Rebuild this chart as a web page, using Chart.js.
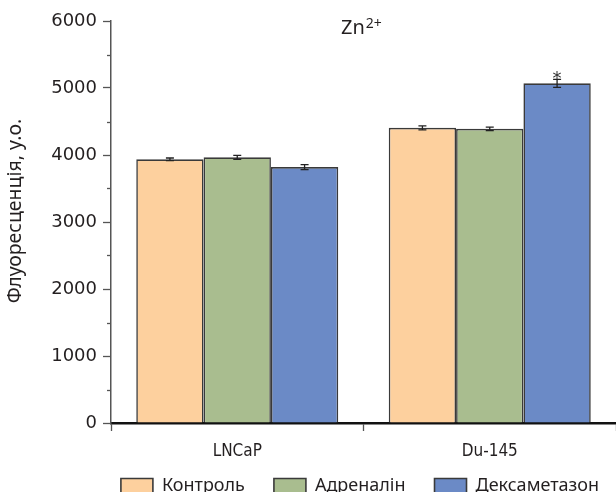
<!DOCTYPE html>
<html>
<head>
<meta charset="utf-8">
<script src="https://cdn.jsdelivr.net/npm/chart.js@4.4.1/dist/chart.umd.min.js"></script>
<style>
  html, body { margin: 0; padding: 0; background: #fff; }
  #wrap { width: 616px; height: 492px; }
</style>
</head>
<body>
<div id="wrap"><canvas id="chart" width="616" height="492"></canvas></div>
<script>
// values
const categories = ["LNCaP", "Du-145"];
const seriesNames = ["Контроль", "Адреналін", "Дексаметазон"];
const controlValues = [3935, 4405];
const adrenalineValues = [3965, 4390];
const dexaValues = [3820, 5070];
const controlErrors = [20, 30];
const adrenalineErrors = [30, 25];
const dexaErrors = [37, 60];
const dexaMarks = ["", "*"];
const yTicks = [0, 1000, 2000, 3000, 4000, 5000, 6000];
const yTitle = "Флуоресценція, у.о.";

const TEXT = "#231f20";
const colors = ["#fdd09e", "#a9bd8f", "#6b8ac6"];

// error bars + significance mark drawn on top of the bars
const errorBars = {
    id: "errorBars",
    afterDatasetsDraw(chart) {
        const { ctx } = chart;
        const y = chart.scales.y;
        chart.data.datasets.forEach((ds, i) => {
            const meta = chart.getDatasetMeta(i);
            meta.data.forEach((bar, j) => {
                const v = ds.data[j], e = ds.errors[j];
                const top = y.getPixelForValue(v + e);
                const bot = y.getPixelForValue(v - e);
                ctx.save();
                ctx.strokeStyle = "#222";
                ctx.lineWidth = 1.3;
                ctx.beginPath();
                ctx.moveTo(bar.x, top); ctx.lineTo(bar.x, bot);
                ctx.moveTo(bar.x - 4, top); ctx.lineTo(bar.x + 4, top);
                ctx.moveTo(bar.x - 4, bot); ctx.lineTo(bar.x + 4, bot);
                ctx.stroke();
                const mark = ds.marks && ds.marks[j];
                if (mark) {
                    ctx.fillStyle = "#333";
                    ctx.font = "18px 'DejaVu Sans'";
                    ctx.textAlign = "center";
                    ctx.textBaseline = "middle";
                    ctx.fillText(mark, bar.x, top);
                }
                ctx.restore();
            });
        });
    },
};

// legend sits lower than chart.js would put it, so move its box after layout
const legendPlacement = {
    id: "legendPlacement",
    afterLayout(chart) {
        const lg = chart.legend;
        if (!lg) return;
        const pad = lg.options.labels.padding;
        lg.top = 477 - pad;
        lg.bottom = 492;
        lg.height = lg.bottom - lg.top;
        lg.left = 52;
        lg.right = 668;
        lg.width = lg.right - lg.left;
    },
};

// minor ticks every 500, y title and the "Zn2+" heading
const extras = {
    id: "extras",
    afterDraw(chart) {
        const { ctx } = chart;
        const y = chart.scales.y;
        ctx.save();
        ctx.strokeStyle = "#555";
        ctx.lineWidth = 1.3;
        y.ticks.forEach((t) => {
            if (t.value % 1000 === 0) return;
            const py = Math.round(y.getPixelForValue(t.value)) + 0.5;
            ctx.beginPath();
            ctx.moveTo(y.right - 4, py); ctx.lineTo(y.right, py);
            ctx.stroke();
        });
        ctx.fillStyle = TEXT;
        ctx.textBaseline = "alphabetic";
        ctx.textAlign = "left";
        ctx.font = "20px 'Noto Sans'";
        const w = ctx.measureText("Zn").width;
        const x0 = 341;
        ctx.fillText("Zn", x0, 34);
        ctx.font = "14px 'Noto Sans'";
        ctx.fillText("2+", x0 + w + 1, 28);

        ctx.translate(15, 211);
        ctx.rotate(-Math.PI / 2);
        ctx.font = "19.5px 'Noto Sans'";
        ctx.textAlign = "center";
        ctx.textBaseline = "middle";
        ctx.fillText(yTitle, 0, 0);
        ctx.restore();
    },
};

function init() {
    const canvas = document.getElementById("chart");
    const data = {
        labels: categories,
        datasets: [
            { label: seriesNames[0], data: controlValues, errors: controlErrors, backgroundColor: colors[0] },
            { label: seriesNames[1], data: adrenalineValues, errors: adrenalineErrors, backgroundColor: colors[1] },
            { label: seriesNames[2], data: dexaValues, errors: dexaErrors, marks: dexaMarks, backgroundColor: colors[2] },
        ].map((d) => ({
            ...d,
            borderColor: "#3a3a3a",
            borderWidth: 1.6,
            categoryPercentage: 0.8,
            barPercentage: 1.0,
        })),
    };

    new Chart(canvas.getContext("2d"), {
        type: "bar",
        data,
        options: {
            responsive: false,
            animation: false,
            layout: { padding: { top: 21, right: 0, left: 0, bottom: 0 } },
            plugins: {
                legend: {
                    position: "bottom",
                    fullSize: true,
                    maxHeight: 20,
                    labels: {
                        boxWidth: 32,
                        boxHeight: 15,
                        padding: 29,
                        color: TEXT,
                        font: { family: "'Noto Sans'", size: 18 },
                    },
                },
                tooltip: { enabled: false },
            },
            scales: {
                x: {
                    afterFit(scale) { scale.height = 49; },
                    grid: { drawOnChartArea: false, drawTicks: true, tickLength: 8, tickColor: "#555", tickWidth: 1.3 },
                    border: { color: "#111", width: 2.5 },
                    ticks: {
                        color: TEXT,
                        padding: 10,
                        font: { family: "'DejaVu Sans Condensed', 'Liberation Sans Narrow', sans-serif", size: 17 },
                    },
                },
                y: {
                    min: 0,
                    max: yTicks[yTicks.length - 1],
                    afterFit(scale) { scale.width = 111; },
                    afterBuildTicks(scale) {
                        const t = [];
                        for (let i = 0; i < yTicks.length; i++) {
                            t.push({ value: yTicks[i] });
                            if (i < yTicks.length - 1) t.push({ value: (yTicks[i] + yTicks[i + 1]) / 2 });
                        }
                        scale.ticks = t;
                    },
                    grid: {
                        drawOnChartArea: false,
                        drawTicks: true,
                        tickLength: 8,
                        tickWidth: 1.3,
                        tickColor: (c) => (c.tick && c.tick.value % 1000 === 0 ? "#555" : "rgba(0,0,0,0)"),
                    },
                    border: { color: "#555", width: 1.5 },
                    ticks: {
                        color: TEXT,
                        padding: 6,
                        font: { family: "'DejaVu Sans'", size: 18 },
                        callback: (v) => (v % 1000 === 0 ? String(v) : ""),
                    },
                },
            },
        },
        plugins: [errorBars, legendPlacement, extras],
    });
}

if (document.readyState === "loading") {
    document.addEventListener("DOMContentLoaded", init, { once: true });
} else {
    init();
}
</script>
</body>
</html>
